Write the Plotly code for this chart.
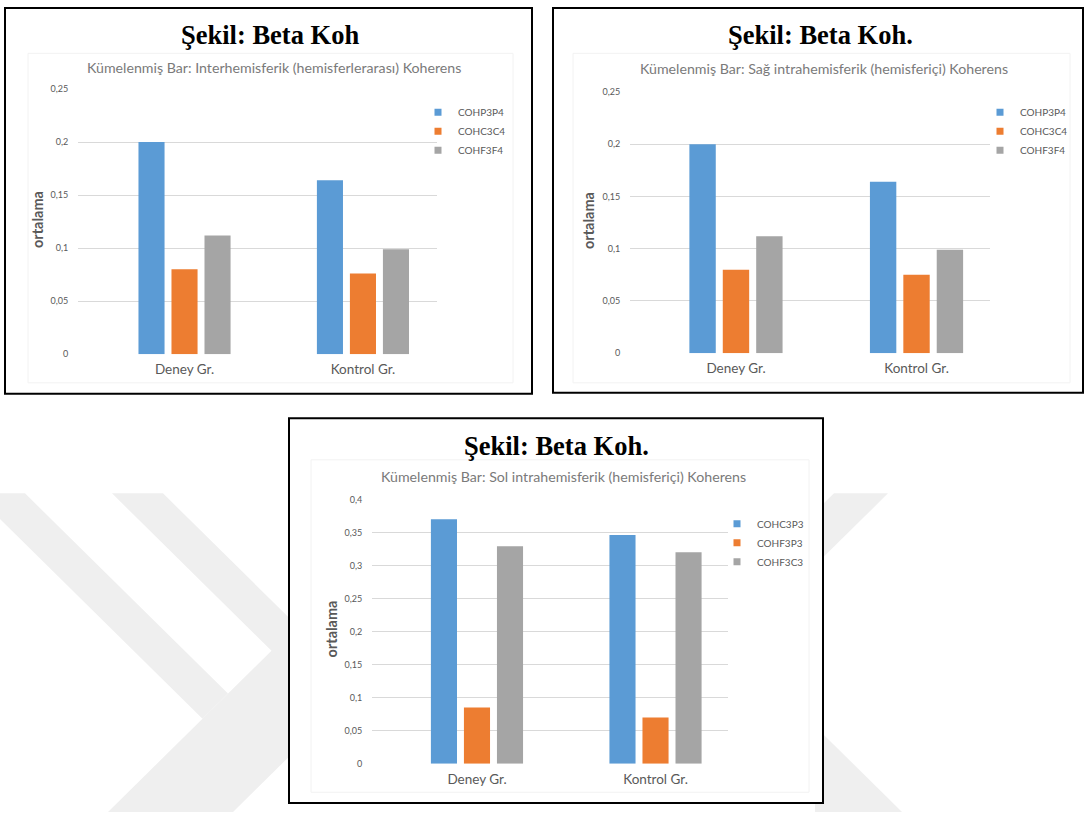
import plotly.graph_objects as go

# ---------------- data ----------------
categories = ["Deney Gr.", "Kontrol Gr."]

inter_series = ["COHP3P4", "COHC3C4", "COHF3F4"]
inter_COHP3P4 = [0.200, 0.164]
inter_COHC3C4 = [0.080, 0.076]
inter_COHF3F4 = [0.112, 0.099]

right_series = ["COHP3P4", "COHC3C4", "COHF3F4"]
right_COHP3P4 = [0.200, 0.164]
right_COHC3C4 = [0.080, 0.075]
right_COHF3F4 = [0.112, 0.099]

left_series = ["COHC3P3", "COHF3P3", "COHF3C3"]
left_COHC3P3 = [0.370, 0.346]
left_COHF3P3 = [0.085, 0.070]
left_COHF3C3 = [0.329, 0.320]

ticks_025 = [0, 0.05, 0.1, 0.15, 0.2, 0.25]
ticklabels_025 = ["0", "0,05", "0,1", "0,15", "0,2", "0,25"]
ticks_04 = [0, 0.05, 0.1, 0.15, 0.2, 0.25, 0.3, 0.35, 0.4]
ticklabels_04 = ["0", "0,05", "0,1", "0,15", "0,2", "0,25", "0,3", "0,35", "0,4"]

figure_titles = ["Şekil: Beta Koh", "Şekil: Beta Koh.", "Şekil: Beta Koh."]
chart_titles = [
    "Kümelenmiş Bar: Interhemisferik (hemisferlerarası) Koherens",
    "Kümelenmiş Bar: Sağ intrahemisferik (hemisferiçi) Koherens",
    "Kümelenmiş Bar: Sol intrahemisferik (hemisferiçi) Koherens",
]
y_title = "ortalama"

# ---------------- style / layout ----------------
W, H = 1086, 817
COLORS = ["#5B9BD5", "#ED7D31", "#A5A5A5"]
SANS = "Lato, 'Open Sans', sans-serif"
SERIF = "'Liberation Serif', 'Times New Roman', serif"
TXT = "#595959"


def fx(x):
    return x / W


def fy(y):
    return 1 - y / H


panels = [
    dict(series=inter_series, values=[inter_COHP3P4, inter_COHC3C4, inter_COHF3F4],
         ticks=ticks_025, ticklabels=ticklabels_025, ymax=0.25,
         border=(5, 2, 532, 393), area=(28, 48, 513, 382),
         xdom=(78, 437), ydom=(353, 84), xrange=(-0.597, 1.415),
         title=(270, 29), sub=(274, 62), ylab=(37, 217), leg=(418, 93)),
    dict(series=right_series, values=[right_COHP3P4, right_COHC3C4, right_COHF3F4],
         ticks=ticks_025, ticklabels=ticklabels_025, ymax=0.25,
         border=(553, 2, 1083, 392), area=(573, 48, 1070, 382),
         xdom=(630, 990), ydom=(352, 87), xrange=(-0.587, 1.407),
         title=(820, 29), sub=(824, 63), ylab=(588, 218), leg=(980, 93)),
    dict(series=left_series, values=[left_COHC3P3, left_COHF3P3, left_COHF3C3],
         ticks=ticks_04, ticklabels=ticklabels_04, ymax=0.4,
         border=(289, 418, 823, 808), area=(311, 460, 809, 797),
         xdom=(372, 728), ydom=(768, 500), xrange=(-0.588, 1.406),
         title=(556, 446), sub=(563, 477), ylab=(331, 632), leg=(717, 510)),
]

fig = go.Figure()
layout = dict(
    width=W, height=H,
    margin=dict(l=0, r=0, t=0, b=0),
    paper_bgcolor="white", plot_bgcolor="rgba(0,0,0,0)",
    barmode="group", bargap=0.445, bargroupgap=0.21,
    showlegend=True,
    font=dict(family=SANS, color=TXT),
)

annotations = []
shapes = []


def poly(pts):
    return "M " + " L ".join(f"{fx(x):.5f},{fy(y):.5f}" for x, y in pts) + " Z"


# faint watermark chevrons (background)
WM = "#efefef"
for pts in [
    [(-26, 494), (25, 494), (228, 697), (202.5, 722.5)],
    [(112, 494), (163, 494), (300, 631), (300, 750), (233, 817), (108, 817),
     (202.5, 722.5), (271.5, 653.5)],
    [(834, 494), (888, 494), (815, 567), (815, 513)],
    [(815, 730), (902, 817), (815, 817)],
]:
    shapes.append(dict(type="path", path=poly(pts), xref="paper", yref="paper",
                       fillcolor=WM, line=dict(width=0), layer="below"))

for i, p in enumerate(panels):
    n = "" if i == 0 else str(i + 1)
    xa, ya = "x" + n, "y" + n
    leg = "legend" + n

    for s, (name, vals) in enumerate(zip(p["series"], p["values"])):
        fig.add_trace(go.Bar(
            x=categories, y=vals, name=name, xaxis=xa, yaxis=ya,
            marker=dict(color=COLORS[s], line=dict(width=0)),
            showlegend=False,
        ))
    for s, name in enumerate(p["series"]):
        fig.add_trace(go.Scatter(
            x=[None], y=[None], name=name, mode="markers", xaxis=xa, yaxis=ya,
            marker=dict(symbol="square", size=7, color=COLORS[s]),
            legend=leg, hoverinfo="skip",
        ))

    layout["xaxis" + n] = dict(
        domain=[fx(p["xdom"][0]), fx(p["xdom"][1])], anchor=ya,
        type="category", categoryorder="array", categoryarray=categories,
        range=list(p["xrange"]), showgrid=False, zeroline=False, showline=False,
        ticks="outside", ticklen=3, tickcolor="rgba(0,0,0,0)",
        tickfont=dict(family=SANS, size=13.5, color=TXT), fixedrange=True,
    )
    layout["yaxis" + n] = dict(
        domain=[fy(p["ydom"][0]), fy(p["ydom"][1])], anchor=xa,
        range=[0, p["ymax"] * 1.0005], tickvals=p["ticks"], ticktext=p["ticklabels"],
        showgrid=True, gridcolor="#D9D9D9", gridwidth=1, zeroline=False, showline=False,
        ticks="outside", ticklen=7, tickcolor="rgba(0,0,0,0)",
        tickfont=dict(family=SANS, size=9, color=TXT), fixedrange=True,
    )
    layout[leg] = dict(
        x=fx(p["leg"][0]), y=fy(p["leg"][1]), xanchor="left", yanchor="top",
        bgcolor="rgba(0,0,0,0)", borderwidth=0, tracegroupgap=0,
        font=dict(family=SANS, size=10, color=TXT),
    )

    # panel border and chart area
    bx0, by0, bx1, by1 = p["border"]
    shapes.append(dict(type="rect", xref="paper", yref="paper",
                       x0=fx(bx0), x1=fx(bx1), y0=fy(by1), y1=fy(by0),
                       fillcolor="white", line=dict(color="black", width=2), layer="below"))
    ax0, ay0, ax1, ay1 = p["area"]
    shapes.append(dict(type="rect", xref="paper", yref="paper",
                       x0=fx(ax0), x1=fx(ax1), y0=fy(ay1), y1=fy(ay0),
                       fillcolor="rgba(0,0,0,0)", line=dict(color="#F2F2F2", width=1), layer="below"))

    annotations.append(dict(
        text="<b>" + figure_titles[i] + "</b>", x=fx(p["title"][0]), y=fy(p["title"][1]),
        xref="paper", yref="paper", xanchor="center", yanchor="middle", showarrow=False,
        font=dict(family=SERIF, size=26.5, color="black"),
    ))
    annotations.append(dict(
        text=chart_titles[i], x=fx(p["sub"][0]), y=fy(p["sub"][1]),
        xref="paper", yref="paper", xanchor="center", yanchor="middle", showarrow=False,
        font=dict(family=SANS, size=14.2, color="#7A7A7A"),
    ))
    annotations.append(dict(
        text="<b>" + y_title + "</b>", x=fx(p["ylab"][0]), y=fy(p["ylab"][1]),
        xref="paper", yref="paper", xanchor="center", yanchor="middle", showarrow=False,
        textangle=-90, font=dict(family=SANS, size=14.5, color=TXT),
    ))

layout["annotations"] = annotations
layout["shapes"] = shapes
fig.update_layout(**layout)
fig.write_html("out.html")
